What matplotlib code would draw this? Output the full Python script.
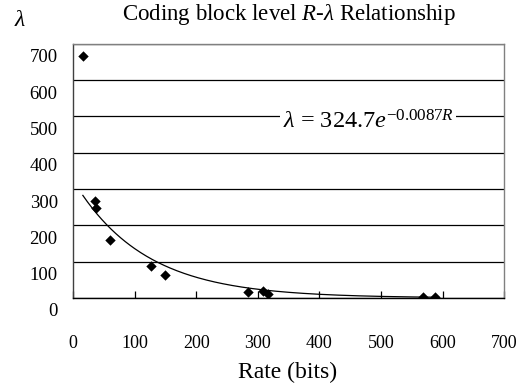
import numpy as np
import matplotlib
matplotlib.use('Agg')
import matplotlib.pyplot as plt
from matplotlib.transforms import ScaledTranslation

plt.rcParams['font.family'] = ['Liberation Serif', 'DejaVu Serif']
plt.rcParams['mathtext.fontset'] = 'custom'
plt.rcParams['mathtext.rm'] = 'Liberation Serif'
plt.rcParams['mathtext.it'] = 'Liberation Serif:italic'

# measured coding-block points
rate = [16, 36, 37, 60, 127, 149, 284, 308, 316, 568, 588]
lam = [666, 267, 248, 160, 88, 63, 17, 19, 11, 3, 3]

# exponential trendline coefficients
a_coef = 324.7
b_coef = -0.0087

xticks = [0, 100, 200, 300, 400, 500, 600, 700]
yticks = [0, 100, 200, 300, 400, 500, 600, 700]

fig = plt.figure(figsize=(5.29, 3.92), dpi=100)
ax = fig.add_axes([0.138, 0.240, 0.815, 0.648])

r_fit = np.linspace(min(rate), max(rate), 300)
ax.plot(r_fit, a_coef * np.exp(b_coef * r_fit), color='black', lw=0.9, zorder=3)
ax.scatter(rate, lam, marker='D', s=28, color='black', zorder=4, linewidths=0)

ax.set_xlim(0, 700)
ax.set_ylim(0, 700)
ax.set_xticks(xticks)
ax.set_yticks(yticks)
ax.set_xticklabels([str(v) for v in xticks], fontsize=13)
ax.set_yticklabels([str(v) for v in yticks], fontsize=13.5)

ax.tick_params(axis='x', direction='in', length=5, width=0.9, pad=27, color='black')
ax.tick_params(axis='y', length=0, pad=11)
# y labels sit a little below their grid lines
shift = ScaledTranslation(0, -12 / 100, fig.dpi_scale_trans)
for lbl in ax.get_yticklabels():
    lbl.set_transform(lbl.get_transform() + shift)

ax.yaxis.grid(True, color='black', lw=0.9)
ax.set_axisbelow(True)
for side in ['top', 'right']:
    ax.spines[side].set_color('#808080')
ax.spines['left'].set_color('#404040')
ax.spines['bottom'].set_color('black')
for sp in ax.spines.values():
    sp.set_linewidth(1.0)

ax.text(479, 468, r'$\lambda$ = 324.7$e^{-0.0087R}$', fontsize=17.5, ha='center', va='baseline',
        bbox=dict(facecolor='white', edgecolor='none', pad=2), zorder=5)

fig.text(289 / 529, 1 - 20 / 392, r'Coding block level $R$-$\lambda$ Relationship',
         fontsize=16.5, ha='center', va='baseline')
fig.text(20 / 529, 1 - 20 / 392, r'$\lambda$', fontsize=17, ha='center', va='center')
fig.text(288 / 529, 1 - 372 / 392, 'Rate (bits)', fontsize=17, ha='center', va='center')

fig.savefig('out.png', dpi=100)
